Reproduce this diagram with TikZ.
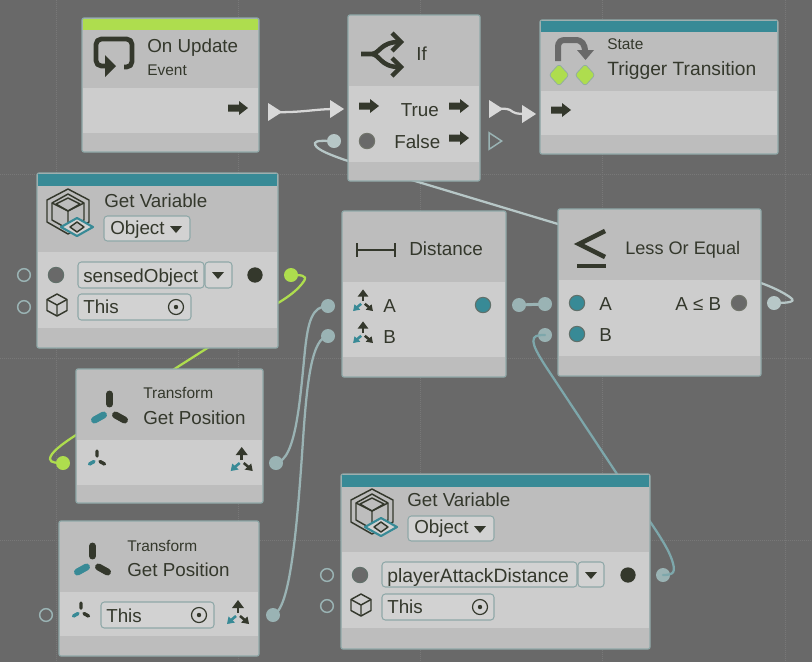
\documentclass[tikz,border=0pt]{standalone}
\usepackage{amsmath,amssymb}
\usepackage{xcolor}
\usepackage{fontspec}
\setmainfont{Liberation Sans}
\usetikzlibrary{shapes.geometric, arrows, positioning, fit}
\definecolor{canvas}{HTML}{696969}
\definecolor{gridln}{HTML}{787878}
\definecolor{cardbg}{HTML}{BDBDBD}
\definecolor{bandbg}{HTML}{CDCDCD}
\definecolor{edge}{HTML}{8FA8A8}
\definecolor{fieldbg}{HTML}{D2D2D2}
\definecolor{teal}{HTML}{388A96}
\definecolor{lime}{HTML}{AEDD4E}
\definecolor{ink}{HTML}{34382C}
\definecolor{wirepale}{HTML}{9AB3B4}
\definecolor{wirelight}{HTML}{B7C7C7}
\definecolor{flowwhite}{HTML}{D8D8D8}
\begin{document}
\begin{tikzpicture}[x=0.75pt, y=-0.75pt,
card/.style={rectangle, rounded corners=1.5pt, draw=edge, line width=0.9pt, fill=cardbg, inner sep=0pt, outer sep=0pt},
header/.style={rectangle, fill=teal, inner sep=0pt, outer sep=0pt},
band/.style={rectangle, fill=bandbg, inner sep=0pt, outer sep=0pt},
field/.style={rectangle, rounded corners=2.5pt, draw=edge, line width=0.8pt, fill=fieldbg, inner sep=0pt, outer sep=0pt},
big/.style={anchor=base west, inner sep=0pt, text=ink, font=\fontsize{14.1}{15}\selectfont},
mid/.style={anchor=base west, inner sep=0pt, text=ink, font=\fontsize{11.6}{13}\selectfont},
dot/.style={circle, inner sep=0pt, minimum size=11.5pt, line width=0.8pt},
port/.style={circle, inner sep=0pt, minimum size=10.5pt, fill=wirepale},
hollow/.style={circle, inner sep=0pt, minimum size=9.5pt, draw=wirepale, line width=1.1pt},
flowtri/.style={isosceles triangle, isosceles triangle apex angle=65, isosceles triangle stretches, inner sep=0pt, minimum width=13.5pt, minimum height=10.5pt, fill=flowwhite},
wire/.style={line width=1.7pt, draw=wirepale, line cap=round},
icon/.style={draw=ink, line width=1.1pt, line join=round},
axarr/.style={line width=1.9pt},
pics/flowicon/.style={code={\fill[ink] (-10,-3.5) -- (1,-3.5) -- (1,-7) -- (10,0) -- (1,7) -- (1,3.5) -- (-10,3.5) -- cycle;}},
pics/menuicon/.style={code={\fill[ink] (-6,-3) -- (6,-3) -- (0,4) -- cycle;}},
pics/radio/.style={code={\draw[ink, line width=0.9pt] (0,0) circle (7.5); \fill[ink] (0,0) circle (2.2);}},
pics/cubeicon/.style={code={\draw[icon] (0,-11) -- (10,-5.5) -- (10,5.5) -- (0,11) -- (-10,5.5) -- (-10,-5.5) -- cycle;
\draw[icon] (-10,-5.5) -- (0,0) -- (10,-5.5) (0,0) -- (0,11);}},
pics/varicon/.style={code={\draw[icon] (0,-23) -- (21,-12) -- (21,10) -- (0,22) -- (-21,10) -- (-21,-12) -- cycle;
\draw[icon] (0,-18) -- (16,-9) -- (16,8) -- (0,17) -- (-16,8) -- (-16,-9) -- cycle;
\draw[icon] (0,-14) -- (12,-8) -- (0,-1) -- (-12,-8) -- cycle;
\draw[icon] (-16,-9) -- (0,-1) -- (16,-9) (0,-1) -- (0,17);
\draw[teal, fill=fieldbg, line width=1.6pt, line join=round] (9,6) -- (25,15) -- (9,24) -- (-7,15) -- cycle;
\draw[icon, fill=cardbg] (9,10) -- (16,15) -- (9,20) -- (2,15) -- cycle;}},
pics/tripod/.style={code={\draw[ink, line cap=round, line width=#1] (0,-18) -- (0,-8) (15,8) -- (6,3);
\draw[teal, line cap=round, line width=#1] (-15,8) -- (-6,3);}},
pics/axes/.style={code={\draw[axarr, ink] (0,-1) -- (0,-8); \fill[ink] (0,-14) -- (6,-6) -- (-6,-6) -- cycle;
\draw[axarr, ink] (2,2) -- (8,7); \fill[ink] (11,10) -- (9.5,2.5) -- (3,8.5) -- cycle;
\draw[axarr, teal] (-2,2) -- (-8,7); \fill[teal] (-11,10) -- (-9.5,2.5) -- (-3,8.5) -- cycle;}}
]
\useasboundingbox (0,0) rectangle (812,662);
\fill[canvas] (0,0) rectangle (812,662);
\foreach \x in {56,238,420,602,785} \draw[gridln, densely dotted, line width=0.5pt] (\x,0) -- (\x,662);
\foreach \y in {174,358,540} \draw[gridln, densely dotted, line width=0.5pt] (0,\y) -- (812,\y);

\node[flowtri, anchor=center] (updateout) at (273,112) {};
\node[flowtri, anchor=center] (ifin) at (335,109) {};
\node[flowtri, anchor=center] (trueout) at (494,109) {};
\node[flowtri, anchor=center] (statein) at (527,114) {};
\node[flowtri, anchor=center, fill=none, draw=wirepale, line width=1.1pt, minimum width=12.5pt, minimum height=9.5pt] (falseout) at (493.5,141) {};
\node[port, fill=wirelight] (ifcond) at (334,141) {};
\node[port, fill=wirelight] (cmpout) at (774,303) {};
\node[port, fill=lime] (varout) at (291,275) {};
\node[port, fill=lime] (posin) at (63,463) {};
\node[port] (distA) at (328,306) {};
\node[port] (distB) at (328,336) {};
\node[port] (posoutA) at (276,463) {};
\node[port] (posoutB) at (273,615) {};
\node[port] (distout) at (519,305) {};
\node[port] (cmpA) at (545,304) {};
\node[port] (cmpB) at (545,335) {};
\node[port] (attackout) at (663,575) {};
\node[hollow] (h1) at (24,275) {};
\node[hollow] (h2) at (24,307) {};
\node[hollow] (h3) at (46,615) {};
\node[hollow] (h4) at (327,575) {};
\node[hollow] (h5) at (327,606) {};

\draw[wire, draw=flowwhite] (updateout.center) .. controls (300,113) and (315,109) .. (ifin.center);
\draw[wire, draw=flowwhite] (trueout.center) .. controls (505,109) and (505,108) .. (510,110) .. controls (514,113) and (516,114) .. (statein.center);
\draw[wire, draw=wirelight] (cmpout.center) .. controls (788,303) and (796,302) .. (791,298) .. controls (786,294) and (775,288) .. (761,283) -- (558,224) -- (415,181) -- (345,160) .. controls (325,153) and (314,148) .. (315,143) .. controls (316,140) and (325,141) .. (ifcond.center);
\draw[wire, draw=lime] (varout.center) .. controls (300,275) and (308,275) .. (304,281) .. controls (298,290) and (288,297) .. (278,303) -- (176,368) -- (76,435) .. controls (62,444) and (50,453) .. (50,459) .. controls (50,463) and (58,463) .. (posin.center);
\draw[wire] (posoutA.center) .. controls (296,460) and (300,400) .. (305,350) .. controls (308,322) and (312,306) .. (distA.center);
\draw[wire] (posoutB.center) .. controls (290,610) and (297,530) .. (303,440) .. controls (307,380) and (312,338) .. (distB.center);
\draw[wire, line width=2.2pt] (distout.center) -- (cmpA.center);
\draw[wire, draw=wirepale!70!teal] (attackout.center) .. controls (674,575) and (676,572) .. (672,560) .. controls (666,542) and (645,515) .. (617,474) -- (560,388) .. controls (545,365) and (530,345) .. (534,338) .. controls (536,335) and (540,335) .. (cmpB.center);

\node[card, fit={(82,18)(259,152)}] (update) {};
\node[header, fill=lime, fit={(83,19)(258,30)}] (updatehd) {};
\node[band, fit={(83,88)(258,133)}] (updateband) {};
\draw[ink, line width=3.6pt, line join=round, rounded corners=4pt] (124,67) -- (132,67) -- (132,39) -- (96,39) -- (96,66) -- (106,66);
\fill[ink] (105,55) -- (116,66) -- (105,77) -- cycle;
\node[big] (updatetxt) at (147,52) {On Update};
\node[mid] (eventtxt) at (147,75) {Event};
\pic at (238,108) {flowicon};

\node[card, fit={(348,15)(480,181)}] (ifnode) {};
\node[band, fit={(349,86)(479,162)}] (ifband) {};
\draw[ink, line width=3.4pt] (361,54) -- (371,54) .. controls (380,54) and (380,42) .. (399,42) (371,54) .. controls (380,54) and (380,67) .. (399,67);
\draw[ink, line width=3.4pt, line join=miter] (392,33) -- (401,42) -- (392,51) (392,58) -- (401,67) -- (392,76);
\node[big] (iftxt) at (416,60) {If};
\node[big] (truetxt) at (400.5,116) {True};
\node[big] (falsetxt) at (394,148) {False};
\pic at (369,106) {flowicon};
\pic at (459,106) {flowicon};
\pic at (459,138) {flowicon};
\node[dot, fill=canvas, draw=ink!70] (iffalse) at (367,141) {};

\node[card, fit={(540,20)(778,154)}] (state) {};
\node[header, fit={(541,21)(777,32)}] (statehd) {};
\node[band, fit={(541,91)(777,135)}] (stateband) {};
\draw[canvas, line width=4.5pt] (558,61) -- (558,48) .. controls (558,41) and (561,40) .. (566,40) -- (575,40) .. controls (582,40) and (585,44) .. (585,52);
\fill[canvas] (577,50) -- (594,50) -- (585.5,60) -- cycle;
\fill[lime, draw=edge, line width=0.5pt, rounded corners=2pt] (559,64) -- (569,75) -- (559,86) -- (549,75) -- cycle;
\fill[lime, draw=edge, line width=0.5pt, rounded corners=2pt] (585,64) -- (595,75) -- (585,86) -- (575,75) -- cycle;
\node[mid] (statetxt) at (607,49) {State};
\node[big, font=\fontsize{14.4}{15}\selectfont] (triggertxt) at (607,75) {Trigger Transition};
\pic at (561,110) {flowicon};

\node[card, fit={(37,173)(278,348)}] (varA) {};
\node[header, fit={(38,174)(277,186)}] (varAhd) {};
\node[band, fit={(38,252)(277,328)}] (varAband) {};
\pic at (68,212) {varicon};
\node[big] (varAtxt) at (104,207) {Get Variable};
\node[field, fit={(104,216)(190,241)}] (varAtype) {};
\node[big] (varAobj) at (110,234) {Object};
\pic at (176,229) {menuicon};
\node[dot, fill=canvas, draw=edge!50!ink] (varAin) at (56,275) {};
\node[field, fit={(78,262)(204,288)}] (varAname) {};
\node[big] (sensedtxt) at (83,282) {sensedObject};
\node[field, fit={(205,262)(232,288)}] (varAdrop) {};
\pic at (218,275) {menuicon};
\node[dot, fill=ink] (varAdot) at (255,275) {};
\pic at (57,305) {cubeicon};
\node[field, fit={(78,294)(191,320)}] (varAthis) {};
\node[big] (thisA) at (83,313) {This};
\pic at (176,307) {radio};

\node[card, fit={(342,211)(506,377)}] (dist) {};
\node[band, fit={(343,282)(505,357)}] (distband) {};
\draw[ink, line width=1.4pt] (357,250) -- (395,250) (357,243) -- (357,257) (395,243) -- (395,257);
\node[mid, font=\fontsize{14.2}{15}\selectfont] (disttxt) at (409,255) {Distance};
\pic[scale=.9] at (363,302) {axes};
\pic[scale=.9] at (363,334) {axes};
\node[big] (distAtxt) at (383,312) {A};
\node[big] (distBtxt) at (383,343) {B};
\node[dot, fill=teal, draw=edge!50!ink] (distdot) at (483,305) {};

\node[card, fit={(558,209)(761,376)}] (cmp) {};
\node[band, fit={(559,280)(760,356)}] (cmpband) {};
\draw[ink, line width=3.4pt, line join=miter] (605,231) -- (579,244) -- (605,257);
\draw[ink, line width=3pt] (577,266) -- (606,266);
\node[mid, font=\fontsize{13.6}{15}\selectfont] (cmptxt) at (625,254) {Less Or Equal};
\node[dot, fill=teal, draw=edge!50!ink] (cmpAdot) at (577,303) {};
\node[dot, fill=teal, draw=edge!50!ink] (cmpBdot) at (577,334) {};
\node[big] (cmpAtxt) at (599,310) {A};
\node[big] (cmpBtxt) at (599,341) {B};
\node[big] (cmpres) at (675,310) {A ≤ B};
\node[dot, fill=canvas, draw=ink!70] (cmpdot) at (739,303) {};

\node[card, fit={(76,369)(263,503)}] (posA) {};
\node[band, fit={(77,440)(262,485)}] (posAband) {};
\pic at (109.5,412) {tripod=5.2pt};
\node[mid] (posAcat) at (143,398) {Transform};
\node[big] (posAtxt) at (143,424) {Get Position};
\pic[scale=.5] at (97,460) {tripod=2.6pt};
\pic at (241.7,461) {axes};

\node[card, fit={(59,521)(259,656)}] (posB) {};
\node[band, fit={(60,592)(258,636)}] (posBband) {};
\pic at (92.5,564) {tripod=5.2pt};
\node[mid] (posBcat) at (127,551) {Transform};
\node[big] (posBtxt) at (127,576) {Get Position};
\pic[scale=.5] at (81,612) {tripod=2.6pt};
\node[field, fit={(101,602)(214,628)}] (posBthis) {};
\node[big] (thisB) at (106,622) {This};
\pic at (199,615) {radio};
\pic at (238,614) {axes};

\node[card, fit={(341,474)(650,649)}] (varB) {};
\node[header, fit={(342,475)(649,487)}] (varBhd) {};
\node[band, fit={(342,552)(649,628)}] (varBband) {};
\pic at (372,512) {varicon};
\node[big] (varBtxt) at (407,506) {Get Variable};
\node[field, fit={(408,516)(494,541)}] (varBtype) {};
\node[big] (varBobj) at (414,533) {Object};
\pic at (480,529) {menuicon};
\node[dot, fill=canvas, draw=edge!50!ink] (varBin) at (360,575) {};
\node[field, fit={(382,562)(577,587)}] (varBname) {};
\node[big, font=\fontsize{14.5}{15}\selectfont] (attacktxt) at (387,582) {playerAttackDistance};
\node[field, fit={(578,562)(604,587)}] (varBdrop) {};
\pic at (591,575) {menuicon};
\node[dot, fill=ink] (varBdot) at (628,575) {};
\pic at (361,605) {cubeicon};
\node[field, fit={(382,594)(494,620)}] (varBthis) {};
\node[big] (thisC) at (387,613) {This};
\pic at (480,607) {radio};
\end{tikzpicture}
\end{document}
